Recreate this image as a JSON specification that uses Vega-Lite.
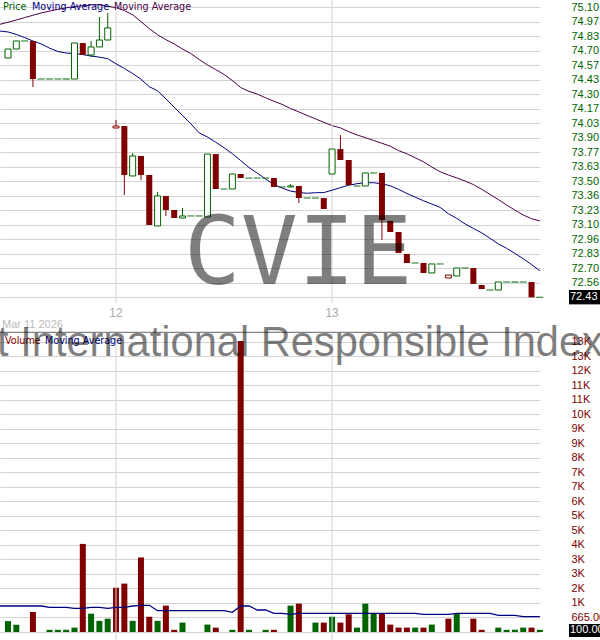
{
  "$schema": "https://vega.github.io/schema/vega-lite/v6.json",
  "width": 540,
  "height": 640,
  "autosize": {"type": "none"},
  "padding": {"left": 0, "top": 0, "right": 60, "bottom": 0},
  "background": "white",
  "config": {
    "view": {"stroke": null},
    "axis": {"domain": false, "ticks": false, "gridColor": "#d3d3d3", "gridWidth": 1}
  },
  "datasets": {
    "bars": [
      {"i": -1, "ma1": 74.882, "ma2": 74.943, "vma": 1192},
      {"i": 0, "open": 74.633, "high": 74.716, "low": 74.633, "close": 74.716, "vol": 500, "dir": "up", "ma1": 74.873, "ma2": 74.963, "vma": 1192},
      {"i": 1, "open": 74.716, "high": 74.79, "low": 74.716, "close": 74.79, "vol": 330, "dir": "up", "ma1": 74.851, "ma2": 74.983, "vma": 1192},
      {"i": 2, "open": 74.79, "high": 74.79, "low": 74.79, "close": 74.79, "vol": 0, "dir": "up", "ma1": 74.821, "ma2": 75.005, "vma": 1192},
      {"i": 3, "open": 74.79, "high": 74.79, "low": 74.366, "close": 74.44, "vol": 920, "dir": "down", "ma1": 74.79, "ma2": 75.027, "vma": 1192},
      {"i": 4, "open": 74.44, "high": 74.44, "low": 74.44, "close": 74.44, "vol": 0, "dir": "up", "ma1": 74.763, "ma2": 75.048, "vma": 1192},
      {"i": 5, "open": 74.44, "high": 74.44, "low": 74.44, "close": 74.44, "vol": 100, "dir": "up", "ma1": 74.724, "ma2": 75.065, "vma": 1133},
      {"i": 6, "open": 74.44, "high": 74.44, "low": 74.44, "close": 74.44, "vol": 100, "dir": "up", "ma1": 74.693, "ma2": 75.081, "vma": 1133},
      {"i": 7, "open": 74.44, "high": 74.44, "low": 74.44, "close": 74.44, "vol": 100, "dir": "up", "ma1": 74.679, "ma2": 75.095, "vma": 1133},
      {"i": 8, "open": 74.44, "high": 74.771, "low": 74.44, "close": 74.771, "vol": 200, "dir": "up", "ma1": 74.674, "ma2": 75.107, "vma": 1087},
      {"i": 9, "open": 74.771, "high": 74.771, "low": 74.661, "close": 74.661, "vol": 4040, "dir": "down", "ma1": 74.665, "ma2": 75.115, "vma": 1087},
      {"i": 10, "open": 74.661, "high": 74.79, "low": 74.643, "close": 74.735, "vol": 840, "dir": "up", "ma1": 74.651, "ma2": 75.122, "vma": 1133},
      {"i": 11, "open": 74.735, "high": 75.011, "low": 74.735, "close": 74.799, "vol": 510, "dir": "up", "ma1": 74.641, "ma2": 75.124, "vma": 1133},
      {"i": 12, "open": 74.799, "high": 75.048, "low": 74.799, "close": 74.91, "vol": 610, "dir": "up", "ma1": 74.627, "ma2": 75.11, "vma": 1087},
      {"i": 13, "open": 73.989, "high": 74.062, "low": 73.989, "close": 74.007, "vol": 2030, "dir": "down", "ma1": 74.58, "ma2": 75.097, "vma": 1133},
      {"i": 14, "open": 74.007, "high": 74.007, "low": 73.372, "close": 73.556, "vol": 2220, "dir": "down", "ma1": 74.537, "ma2": 75.07, "vma": 1133},
      {"i": 15, "open": 73.547, "high": 73.759, "low": 73.547, "close": 73.731, "vol": 510, "dir": "up", "ma1": 74.49, "ma2": 75.031, "vma": 1192},
      {"i": 16, "open": 73.731, "high": 73.731, "low": 73.51, "close": 73.556, "vol": 3420, "dir": "down", "ma1": 74.438, "ma2": 74.968, "vma": 1224},
      {"i": 17, "open": 73.556, "high": 73.556, "low": 73.096, "close": 73.096, "vol": 700, "dir": "down", "ma1": 74.369, "ma2": 74.904, "vma": 1224},
      {"i": 18, "open": 73.087, "high": 73.4, "low": 73.087, "close": 73.363, "vol": 510, "dir": "up", "ma1": 74.331, "ma2": 74.847, "vma": 977},
      {"i": 19, "open": 73.363, "high": 73.363, "low": 73.179, "close": 73.234, "vol": 1210, "dir": "down", "ma1": 74.257, "ma2": 74.802, "vma": 977},
      {"i": 20, "open": 73.234, "high": 73.234, "low": 73.16, "close": 73.16, "vol": 100, "dir": "down", "ma1": 74.18, "ma2": 74.763, "vma": 977},
      {"i": 21, "open": 73.16, "high": 73.252, "low": 73.16, "close": 73.179, "vol": 430, "dir": "up", "ma1": 74.104, "ma2": 74.716, "vma": 977},
      {"i": 22, "open": 73.179, "high": 73.179, "low": 73.179, "close": 73.179, "vol": 0, "dir": "up", "ma1": 74.028, "ma2": 74.674, "vma": 977},
      {"i": 23, "open": 73.179, "high": 73.179, "low": 73.179, "close": 73.179, "vol": 0, "dir": "up", "ma1": 73.944, "ma2": 74.62, "vma": 977},
      {"i": 24, "open": 73.169, "high": 73.749, "low": 73.169, "close": 73.749, "vol": 340, "dir": "up", "ma1": 73.906, "ma2": 74.569, "vma": 977},
      {"i": 25, "open": 73.749, "high": 73.749, "low": 73.427, "close": 73.427, "vol": 200, "dir": "down", "ma1": 73.858, "ma2": 74.526, "vma": 977},
      {"i": 26, "open": 73.427, "high": 73.427, "low": 73.427, "close": 73.427, "vol": 0, "dir": "up", "ma1": 73.807, "ma2": 74.482, "vma": 977},
      {"i": 27, "open": 73.427, "high": 73.565, "low": 73.427, "close": 73.565, "vol": 100, "dir": "up", "ma1": 73.752, "ma2": 74.426, "vma": 903},
      {"i": 28, "open": 73.565, "high": 73.565, "low": 73.528, "close": 73.528, "vol": 13350, "dir": "down", "ma1": 73.689, "ma2": 74.361, "vma": 1192},
      {"i": 29, "open": 73.528, "high": 73.528, "low": 73.528, "close": 73.528, "vol": 100, "dir": "up", "ma1": 73.625, "ma2": 74.326, "vma": 1192},
      {"i": 30, "open": 73.528, "high": 73.528, "low": 73.528, "close": 73.528, "vol": 0, "dir": "up", "ma1": 73.573, "ma2": 74.301, "vma": 1009},
      {"i": 31, "open": 73.528, "high": 73.528, "low": 73.528, "close": 73.528, "vol": 100, "dir": "up", "ma1": 73.519, "ma2": 74.267, "vma": 1009},
      {"i": 32, "open": 73.528, "high": 73.528, "low": 73.446, "close": 73.446, "vol": 100, "dir": "down", "ma1": 73.469, "ma2": 74.235, "vma": 858},
      {"i": 33, "open": 73.446, "high": 73.446, "low": 73.446, "close": 73.446, "vol": 0, "dir": "up", "ma1": 73.435, "ma2": 74.206, "vma": 858},
      {"i": 34, "open": 73.446, "high": 73.473, "low": 73.446, "close": 73.455, "vol": 1210, "dir": "up", "ma1": 73.408, "ma2": 74.168, "vma": 812},
      {"i": 35, "open": 73.455, "high": 73.455, "low": 73.298, "close": 73.344, "vol": 1300, "dir": "down", "ma1": 73.395, "ma2": 74.137, "vma": 858},
      {"i": 36, "open": 73.344, "high": 73.344, "low": 73.344, "close": 73.344, "vol": 0, "dir": "up", "ma1": 73.388, "ma2": 74.104, "vma": 858},
      {"i": 37, "open": 73.344, "high": 73.344, "low": 73.344, "close": 73.344, "vol": 430, "dir": "up", "ma1": 73.393, "ma2": 74.073, "vma": 858},
      {"i": 38, "open": 73.344, "high": 73.344, "low": 73.243, "close": 73.243, "vol": 430, "dir": "down", "ma1": 73.394, "ma2": 74.041, "vma": 858},
      {"i": 39, "open": 73.565, "high": 73.795, "low": 73.565, "close": 73.795, "vol": 700, "dir": "up", "ma1": 73.416, "ma2": 74.011, "vma": 858},
      {"i": 40, "open": 73.795, "high": 73.924, "low": 73.694, "close": 73.694, "vol": 430, "dir": "down", "ma1": 73.44, "ma2": 73.99, "vma": 858},
      {"i": 41, "open": 73.694, "high": 73.694, "low": 73.464, "close": 73.464, "vol": 810, "dir": "down", "ma1": 73.462, "ma2": 73.955, "vma": 858},
      {"i": 42, "open": 73.455, "high": 73.455, "low": 73.455, "close": 73.455, "vol": 200, "dir": "up", "ma1": 73.476, "ma2": 73.925, "vma": 858},
      {"i": 43, "open": 73.455, "high": 73.575, "low": 73.455, "close": 73.575, "vol": 1300, "dir": "up", "ma1": 73.485, "ma2": 73.9, "vma": 858},
      {"i": 44, "open": 73.575, "high": 73.575, "low": 73.575, "close": 73.575, "vol": 860, "dir": "up", "ma1": 73.485, "ma2": 73.874, "vma": 858},
      {"i": 45, "open": 73.575, "high": 73.575, "low": 72.958, "close": 73.142, "vol": 860, "dir": "down", "ma1": 73.474, "ma2": 73.848, "vma": 858},
      {"i": 46, "open": 73.133, "high": 73.133, "low": 73.031, "close": 73.031, "vol": 340, "dir": "down", "ma1": 73.457, "ma2": 73.821, "vma": 858},
      {"i": 47, "open": 73.031, "high": 73.031, "low": 72.838, "close": 72.838, "vol": 200, "dir": "down", "ma1": 73.424, "ma2": 73.781, "vma": 858},
      {"i": 48, "open": 72.829, "high": 72.829, "low": 72.746, "close": 72.746, "vol": 200, "dir": "down", "ma1": 73.386, "ma2": 73.751, "vma": 858},
      {"i": 49, "open": 72.746, "high": 72.746, "low": 72.746, "close": 72.746, "vol": 200, "dir": "up", "ma1": 73.352, "ma2": 73.715, "vma": 858},
      {"i": 50, "open": 72.746, "high": 72.746, "low": 72.654, "close": 72.654, "vol": 200, "dir": "down", "ma1": 73.319, "ma2": 73.677, "vma": 812},
      {"i": 51, "open": 72.654, "high": 72.737, "low": 72.654, "close": 72.737, "vol": 340, "dir": "up", "ma1": 73.289, "ma2": 73.63, "vma": 812},
      {"i": 52, "open": 72.737, "high": 72.737, "low": 72.737, "close": 72.737, "vol": 0, "dir": "up", "ma1": 73.258, "ma2": 73.586, "vma": 812},
      {"i": 53, "open": 72.608, "high": 72.635, "low": 72.608, "close": 72.635, "vol": 610, "dir": "down", "ma1": 73.199, "ma2": 73.556, "vma": 812},
      {"i": 54, "open": 72.626, "high": 72.7, "low": 72.626, "close": 72.7, "vol": 860, "dir": "up", "ma1": 73.157, "ma2": 73.529, "vma": 858},
      {"i": 55, "open": 72.7, "high": 72.7, "low": 72.7, "close": 72.7, "vol": 0, "dir": "up", "ma1": 73.106, "ma2": 73.501, "vma": 858},
      {"i": 56, "open": 72.7, "high": 72.7, "low": 72.553, "close": 72.553, "vol": 610, "dir": "down", "ma1": 73.064, "ma2": 73.468, "vma": 858},
      {"i": 57, "open": 72.543, "high": 72.543, "low": 72.506, "close": 72.506, "vol": 100, "dir": "down", "ma1": 73.024, "ma2": 73.425, "vma": 858},
      {"i": 58, "open": 72.497, "high": 72.497, "low": 72.497, "close": 72.497, "vol": 0, "dir": "up", "ma1": 72.973, "ma2": 73.377, "vma": 858},
      {"i": 59, "open": 72.497, "high": 72.571, "low": 72.497, "close": 72.571, "vol": 200, "dir": "up", "ma1": 72.922, "ma2": 73.33, "vma": 766},
      {"i": 60, "open": 72.571, "high": 72.571, "low": 72.571, "close": 72.571, "vol": 100, "dir": "up", "ma1": 72.881, "ma2": 73.28, "vma": 766},
      {"i": 61, "open": 72.571, "high": 72.571, "low": 72.571, "close": 72.571, "vol": 100, "dir": "up", "ma1": 72.834, "ma2": 73.233, "vma": 766},
      {"i": 62, "open": 72.571, "high": 72.571, "low": 72.571, "close": 72.571, "vol": 200, "dir": "up", "ma1": 72.785, "ma2": 73.188, "vma": 702},
      {"i": 63, "open": 72.571, "high": 72.571, "low": 72.43, "close": 72.43, "vol": 200, "dir": "down", "ma1": 72.732, "ma2": 73.154, "vma": 702},
      {"i": 64, "open": 72.43, "high": 72.43, "low": 72.43, "close": 72.43, "vol": 100, "dir": "up", "ma1": 72.674, "ma2": 73.133, "vma": 702}
    ],
    "days": [
      {"i": 13, "label": "12"},
      {"i": 39, "label": "13"}
    ],
    "info": [
      {"symbol": "CVIE", "name": "Calvert International Responsible Index ETF", "date": "Mar 11 2026"}
    ]
  },
  "layer": [
    {
      "layer": [
        {
          "data": {"name": "bars"},
          "mark": {"type": "line", "color": "#4b0048", "strokeWidth": 1},
          "encoding": {
            "x": {"field": "i", "type": "quantitative", "scale": {"domain": [-0.963, 64.02], "nice": false, "zero": false, "padding": 0}, "axis": null},
            "y": {"field": "ma2", "type": "quantitative", "scale": {"domain": [69.2747, 75.1673], "nice": false, "zero": false, "padding": 0},
              "axis": {"orient": "right", "title": null, "grid": true, "tickCount": 100, "labelPadding": 31, "labelColor": "#006400", "labelFont": "Liberation Sans", "labelFontSize": 11, "labelBaseline": "middle", "labelOverlap": false, "format": ".2f",
                "values": [72.43, 72.5635, 72.697, 72.8305, 72.964, 73.0975, 73.231, 73.3645, 73.498, 73.6315, 73.7651, 73.8985, 74.032, 74.1656, 74.299, 74.4325, 74.566, 74.6996, 74.833, 74.9666, 75.1]}}
          }
        },
        {
          "data": {"name": "days"},
          "mark": {"type": "rule", "color": "#d3d3d3", "strokeWidth": 1},
          "encoding": {
            "x": {"field": "i", "type": "quantitative", "scale": {"domain": [-0.963, 64.02], "nice": false, "zero": false, "padding": 0}, "axis": null},
            "y": {"datum": 75.1673, "type": "quantitative"},
            "y2": {"datum": 72.379}
          }
        },
        {
          "data": {"name": "bars"},
          "mark": {"type": "line", "color": "#000080", "strokeWidth": 1},
          "encoding": {
            "x": {"field": "i", "type": "quantitative", "scale": {"domain": [-0.963, 64.02], "nice": false, "zero": false, "padding": 0}, "axis": null},
            "y": {"field": "ma1", "type": "quantitative"}
          }
        },
        {
          "data": {"name": "bars"},
          "transform": [{"filter": {"field": "open", "valid": true}}],
          "mark": {"type": "rule", "strokeWidth": 1},
          "encoding": {
            "x": {"field": "i", "type": "quantitative", "scale": {"domain": [-0.963, 64.02], "nice": false, "zero": false, "padding": 0}, "axis": null},
            "y": {"field": "low", "type": "quantitative"},
            "y2": {"field": "high"},
            "color": {"field": "dir", "type": "nominal", "scale": {"domain": ["up", "down"], "range": ["#006400", "#800000"]}, "legend": null}
          }
        },
        {
          "data": {"name": "bars"},
          "transform": [{"filter": "datum.close < datum.open"}],
          "mark": {"type": "bar", "size": 6},
          "encoding": {
            "x": {"field": "i", "type": "quantitative", "scale": {"domain": [-0.963, 64.02], "nice": false, "zero": false, "padding": 0}, "axis": null},
            "y": {"field": "open", "type": "quantitative"},
            "y2": {"field": "close"},
            "color": {"field": "dir", "type": "nominal", "scale": {"domain": ["up", "down"], "range": ["#006400", "#800000"]}, "legend": null}
          }
        },
        {
          "data": {"name": "bars"},
          "transform": [{"filter": "datum.close > datum.open"}],
          "mark": {"type": "bar", "size": 6, "fill": "white", "strokeWidth": 1},
          "encoding": {
            "x": {"field": "i", "type": "quantitative", "scale": {"domain": [-0.963, 64.02], "nice": false, "zero": false, "padding": 0}, "axis": null},
            "y": {"field": "open", "type": "quantitative"},
            "y2": {"field": "close"},
            "stroke": {"field": "dir", "type": "nominal", "scale": {"domain": ["up", "down"], "range": ["#006400", "#800000"]}, "legend": null}
          }
        },
        {
          "data": {"name": "bars"},
          "transform": [{"filter": "isValid(datum.open) && datum.close == datum.open"}],
          "mark": {"type": "tick", "orient": "horizontal", "size": 7, "thickness": 1.3},
          "encoding": {
            "x": {"field": "i", "type": "quantitative", "scale": {"domain": [-0.963, 64.02], "nice": false, "zero": false, "padding": 0}, "axis": null},
            "y": {"field": "close", "type": "quantitative"},
            "color": {"field": "dir", "type": "nominal", "scale": {"domain": ["up", "down"], "range": ["#006400", "#800000"]}, "legend": null}
          }
        },
        {
          "data": {"name": "days"},
          "mark": {"type": "text", "color": "#aaaaaa", "font": "Liberation Sans", "fontSize": 12, "align": "center", "baseline": "middle"},
          "encoding": {
            "x": {"field": "i", "type": "quantitative", "scale": {"domain": [-0.963, 64.02], "nice": false, "zero": false, "padding": 0}, "axis": null},
            "y": {"datum": 72.285, "type": "quantitative"},
            "text": {"field": "label"}
          }
        },
        {
          "data": {"name": "info"},
          "mark": {"type": "text", "color": "#bbbbbb", "font": "Liberation Sans", "fontSize": 11, "align": "left", "baseline": "middle"},
          "encoding": {
            "x": {"datum": -0.722, "type": "quantitative", "axis": null},
            "y": {"datum": 72.175, "type": "quantitative"},
            "text": {"field": "date"}
          }
        },
        {
          "data": {"values": [{"t": "Price"}]},
          "mark": {"type": "text", "color": "#006400", "font": "DejaVu Sans", "fontSize": 9.6, "align": "left", "baseline": "middle"},
          "encoding": {
            "x": {"datum": -0.6, "type": "quantitative", "axis": null},
            "y": {"datum": 75.103, "type": "quantitative"},
            "text": {"field": "t"}
          }
        },
        {
          "data": {"values": [{"t": "Moving Average"}]},
          "mark": {"type": "text", "color": "#000080", "font": "DejaVu Sans", "fontSize": 9.6, "align": "left", "baseline": "middle"},
          "encoding": {
            "x": {"datum": 2.888, "type": "quantitative", "axis": null},
            "y": {"datum": 75.103, "type": "quantitative"},
            "text": {"field": "t"}
          }
        },
        {
          "data": {"values": [{"t": "Moving Average"}]},
          "mark": {"type": "text", "color": "#4b0048", "font": "DejaVu Sans", "fontSize": 9.6, "align": "left", "baseline": "middle"},
          "encoding": {
            "x": {"datum": 12.756, "type": "quantitative", "axis": null},
            "y": {"datum": 75.103, "type": "quantitative"},
            "text": {"field": "t"}
          }
        },
        {
          "data": {"name": "bars"},
          "transform": [{"filter": "datum.i == 64"}],
          "mark": {"type": "rect", "color": "black"},
          "encoding": {
            "x": {"datum": 67.51, "type": "quantitative", "axis": null},
            "x2": {"datum": 71.3},
            "y": {"datum": 72.497, "type": "quantitative"},
            "y2": {"datum": 72.365}
          }
        },
        {
          "data": {"name": "bars"},
          "transform": [{"filter": "datum.i == 64"}],
          "mark": {"type": "text", "color": "white", "font": "Liberation Sans", "fontSize": 11, "align": "left", "baseline": "middle"},
          "encoding": {
            "x": {"datum": 67.63, "type": "quantitative", "axis": null},
            "y": {"field": "close", "type": "quantitative"},
            "text": {"field": "close", "format": ".2f"}
          }
        },
        {
          "data": {"name": "info"},
          "mark": {"type": "text", "color": "black", "opacity": 0.5, "font": "DejaVu Sans Mono", "fontSize": 95, "align": "center", "baseline": "alphabetic"},
          "encoding": {
            "x": {"datum": 34.9, "type": "quantitative", "axis": null},
            "y": {"datum": 72.55, "type": "quantitative"},
            "text": {"field": "symbol"}
          }
        }
      ]
    },
    {
      "layer": [
        {
          "data": {"name": "bars"},
          "transform": [{"filter": "datum.vol > 0"}],
          "mark": {"type": "bar", "size": 6},
          "encoding": {
            "x": {"field": "i", "type": "quantitative", "scale": {"domain": [-0.963, 64.02], "nice": false, "zero": false, "padding": 0}, "axis": null},
            "y": {"field": "vol", "type": "quantitative", "scale": {"domain": [-367, 28984], "nice": false, "zero": false, "padding": 0},
              "axis": {"orient": "right", "title": null, "grid": true, "tickCount": 100, "labelPadding": 31, "labelColor": "#800000", "labelFont": "Liberation Sans", "labelFontSize": 11, "labelBaseline": "middle", "labelOverlap": false,
                "values": [0, 665, 1330, 1995, 2660, 3325, 3990, 4655, 5320, 5985, 6650, 7315, 7980, 8645, 9310, 9975, 10640, 11305, 11970, 12635, 13300],
                "labelExpr": "datum.value == 0 ? '' : (datum.value < 1000 ? format(datum.value, '.2f') : format(round(datum.value / 1000), 'd') + 'K')"}},
            "color": {"field": "dir", "type": "nominal", "scale": {"domain": ["up", "down"], "range": ["#006400", "#800000"]}, "legend": null}
          }
        },
        {
          "data": {"name": "days"},
          "mark": {"type": "rule", "color": "#d3d3d3", "strokeWidth": 1},
          "encoding": {
            "x": {"field": "i", "type": "quantitative", "scale": {"domain": [-0.963, 64.02], "nice": false, "zero": false, "padding": 0}, "axis": null},
            "y": {"datum": 13712, "type": "quantitative"},
            "y2": {"datum": -367}
          }
        },
        {
          "data": {"values": [{"t": "border"}]},
          "mark": {"type": "rule", "color": "#666666", "strokeWidth": 1},
          "encoding": {
            "y": {"datum": 13744, "type": "quantitative"}
          }
        },
        {
          "data": {"name": "bars"},
          "mark": {"type": "line", "color": "#000080", "strokeWidth": 1.3},
          "encoding": {
            "x": {"field": "i", "type": "quantitative", "scale": {"domain": [-0.963, 64.02], "nice": false, "zero": false, "padding": 0}, "axis": null},
            "y": {"field": "vma", "type": "quantitative"}
          }
        },
        {
          "data": {"values": [{"t": "Volume"}]},
          "mark": {"type": "text", "color": "#800000", "font": "DejaVu Sans", "fontSize": 9.6, "align": "left", "baseline": "middle"},
          "encoding": {
            "x": {"datum": -0.361, "type": "quantitative", "axis": null},
            "y": {"datum": 13345, "type": "quantitative"},
            "text": {"field": "t"}
          }
        },
        {
          "data": {"values": [{"t": "Moving Average"}]},
          "mark": {"type": "text", "color": "#000080", "font": "DejaVu Sans", "fontSize": 9.6, "align": "left", "baseline": "middle"},
          "encoding": {
            "x": {"datum": 4.452, "type": "quantitative", "axis": null},
            "y": {"datum": 13345, "type": "quantitative"},
            "text": {"field": "t"}
          }
        },
        {
          "data": {"name": "bars"},
          "transform": [{"filter": "datum.i == 64"}],
          "mark": {"type": "rect", "color": "black"},
          "encoding": {
            "x": {"datum": 67.51, "type": "quantitative", "axis": null},
            "x2": {"datum": 71.3},
            "y": {"datum": 367, "type": "quantitative"},
            "y2": {"datum": -229}
          }
        },
        {
          "data": {"name": "bars"},
          "transform": [{"filter": "datum.i == 64"}],
          "mark": {"type": "text", "color": "white", "font": "Liberation Sans", "fontSize": 11, "align": "left", "baseline": "middle"},
          "encoding": {
            "x": {"datum": 67.63, "type": "quantitative", "axis": null},
            "y": {"field": "vol", "type": "quantitative"},
            "text": {"field": "vol", "format": ".2f"}
          }
        },
        {
          "data": {"name": "info"},
          "mark": {"type": "text", "color": "black", "opacity": 0.5, "font": "Liberation Sans", "fontSize": 41.6, "align": "center", "baseline": "alphabetic"},
          "encoding": {
            "x": {"datum": 33.33, "type": "quantitative", "axis": null},
            "y": {"datum": 12680, "type": "quantitative"},
            "text": {"field": "name"}
          }
        }
      ]
    }
  ],
  "resolve": {"scale": {"y": "independent"}, "axis": {"y": "independent"}}
}
